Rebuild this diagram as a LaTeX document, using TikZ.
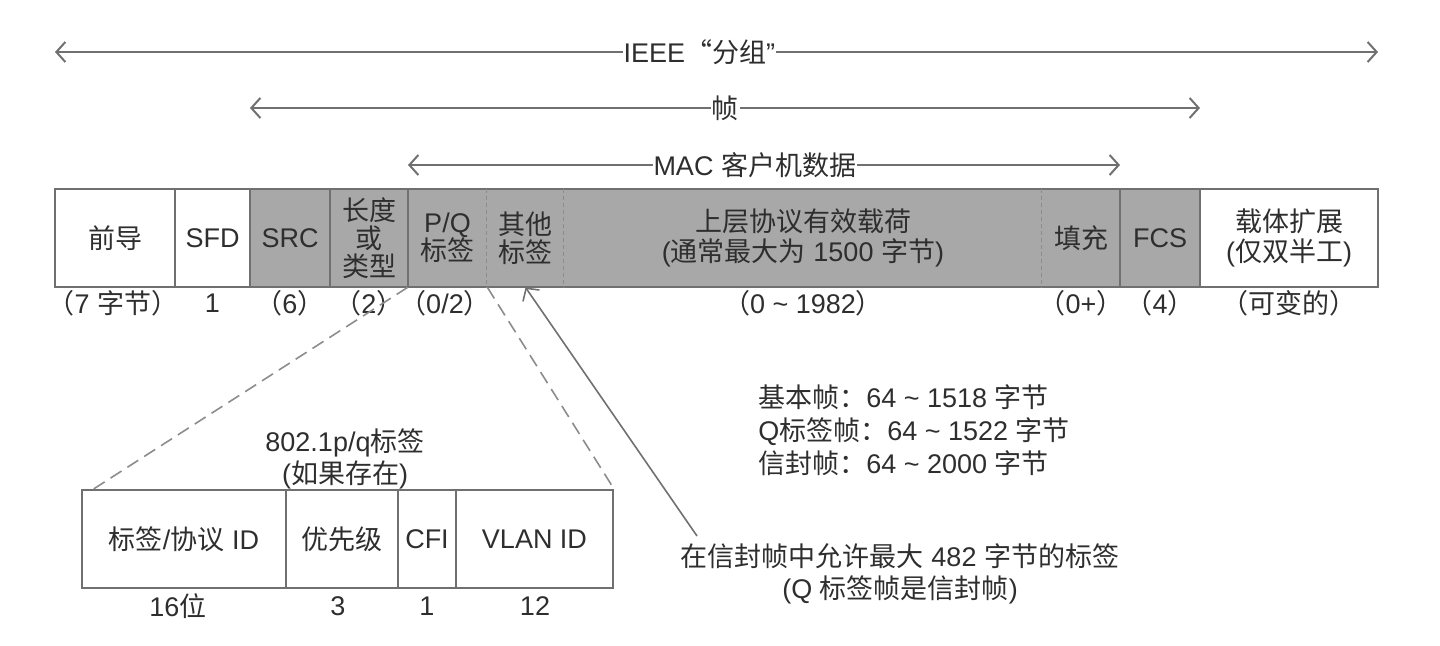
\documentclass[tikz,border=0pt]{standalone}
\usepackage{fontspec}
\setmainfont{Liberation Sans}
\newfontfamily\cjk{Noto Sans CJK SC}
\newcommand\zh[1]{{\cjk #1}}
\usetikzlibrary{arrows.meta}
\definecolor{linegray}{gray}{0.44}
\definecolor{fillgray}{gray}{0.66}
\definecolor{dashgray}{gray}{0.55}
\definecolor{textgray}{gray}{0.18}
\tikzset{
  every node/.style={text=textgray, font=\fontsize{13.5pt}{14pt}\selectfont},
  field/.style={inner sep=0pt, minimum height=49pt, align=center},
  gfield/.style={field, fill=fillgray},
  tfield/.style={field, draw=linegray, line width=1pt},
  box/.style={draw=linegray, line width=1pt},
  sep/.style={draw=dashgray, line width=0.6pt, dash pattern=on 2pt off 1.5pt},
  span/.style={{Straight Barb[length=4.5pt,width=10pt]}-{Straight Barb[length=4.5pt,width=10pt]}, draw=linegray, line width=1pt},
  spanlabel/.style={fill=white, inner xsep=0.5pt, inner ysep=1pt},
  zoomline/.style={draw=dashgray, line width=0.8pt, dash pattern=on 6.5pt off 3.5pt},
  pointer/.style={-{Straight Barb[length=4.5pt,width=10pt]}, draw=linegray, line width=0.8pt},
  count/.style={inner sep=0pt}
}
\begin{document}
\begin{tikzpicture}[x=0.5pt,y=-0.5pt]
\useasboundingbox (0,0) rectangle (1440,646);
% spans above the frame
\coordinate (ieeeL) at (55,52);
\coordinate (ieeeR) at (1378,52);
\coordinate (frameL) at (250,108);
\coordinate (frameR) at (1200,108);
\coordinate (macL) at (408,165);
\coordinate (macR) at (1120,165);
\draw [span] (ieeeL) -- node[pos=0.487, spanlabel] {IEEE\zh{“分组}”} (ieeeR);
\draw [span] (frameL) -- node[pos=0.5, spanlabel] {\zh{帧}} (frameR);
\draw [span] (macL) -- node[pos=0.487, spanlabel] {MAC \zh{客户机数据}} (macR);
% frame fields
\node[field, minimum width=60pt] (pre) at (115,238) {\zh{前导}};
\node[field, minimum width=37.5pt] (sfd) at (212.5,238) {SFD};
\node[gfield, minimum width=40pt] (src) at (290,238) {SRC};
\node[gfield, minimum width=39pt] (len) at (369,238) {\zh{长度}\\\zh{或}\\\zh{类型}};
\node[gfield, minimum width=39.5pt] (pq) at (447.5,238) {P/Q\\\zh{标签}};
\node[gfield, minimum width=38.5pt] (other) at (525.5,238) {\zh{其他}\\\zh{标签}};
\node[gfield, minimum width=239pt, font=\fontsize{13.5pt}{15pt}\selectfont] (payload) at (803,238) {\zh{上层协议有效载荷}\\(\zh{通常最大为} 1500 \zh{字节})};
\node[gfield, minimum width=39pt] (pad) at (1081,238) {\zh{填充}};
\node[gfield, minimum width=40pt] (fcs) at (1160,238) {FCS};
\node[field, minimum width=89pt, font=\fontsize{13.5pt}{15pt}\selectfont] (ext) at (1289,238) {\zh{载体扩展}\\(\zh{仅双半工})};
\draw [box] (pre.north west) rectangle (ext.south east);
\draw [box] (sfd.north west) -- (sfd.south west);
\draw [box] (src.north west) -- (src.south west);
\draw [box] (len.north west) -- (len.south west);
\draw [box] (pq.north west) -- (pq.south west);
\draw [sep] (other.north west) -- (other.south west);
\draw [sep] (payload.north west) -- (payload.south west);
\draw [sep] (pad.north west) -- (pad.south west);
\draw [box] (fcs.north west) -- (fcs.south west);
\draw [box] (ext.north west) -- (ext.south west);
% sizes in bytes
\node[count] (preN) at (113,303) {\zh{（}7 \zh{字节）}};
\node[count] (sfdN) at (212.5,303) {1};
\node[count] (srcN) at (290,303) {\zh{（}6\zh{）}};
\node[count] (lenN) at (369,303) {\zh{（}2\zh{）}};
\node[count] (pqN) at (445,303) {\zh{（}0/2\zh{）}};
\node[count] (payloadN) at (803,303) {\zh{（}0 \~{} 1982\zh{）}};
\node[count] (padN) at (1081,303) {\zh{（}0+\zh{）}};
\node[count] (fcsN) at (1160,303) {\zh{（}4\zh{）}};
\node[count] (extN) at (1289,303) {\zh{（可变的）}};
% 802.1p/q tag
\node[align=center, inner sep=0pt, font=\fontsize{13.5pt}{16pt}\selectfont] (tagT) at (345,459) {802.1p/q\zh{标签}\\(\zh{如果存在})};
\node[tfield, minimum width=102pt] (tpid) at (184,539) {\zh{标签}/\zh{协议} ID};
\node[tfield, minimum width=56pt] (pri) at (342,539) {\zh{优先级}};
\node[tfield, minimum width=29pt] (cfi) at (427,539) {CFI};
\node[tfield, minimum width=78.5pt] (vid) at (534.5,539) {VLAN ID};
\node[count] (tpidN) at (178,606) {16\zh{位}};
\node[count] (priN) at (338,606) {3};
\node[count] (cfiN) at (427,606) {1};
\node[count] (vidN) at (535,606) {12};
\coordinate (tagL) at (92,490);
\draw [zoomline] (pq.south west) -- (tagL);
\draw [zoomline] (pq.south east) -- (vid.north east);
% frame sizes and note
\node[align=left, anchor=west, inner sep=0pt, font=\fontsize{13.5pt}{16.5pt}\selectfont] (sizes) at (758,430) {\zh{基本帧：}64 \~{} 1518 \zh{字节}\\Q\zh{标签帧：}64 \~{} 1522 \zh{字节}\\\zh{信封帧：}64 \~{} 2000 \zh{字节}};
\node[align=center, inner sep=0pt, font=\fontsize{13.5pt}{16pt}\selectfont] (note) at (900,574) {\zh{在信封帧中允许最大} 482 \zh{字节的标签}\\(Q \zh{标签帧是信封帧})};
\coordinate (noteA) at (697,536);
\draw [pointer] (noteA) -- (other.south);
\end{tikzpicture}
\end{document}
